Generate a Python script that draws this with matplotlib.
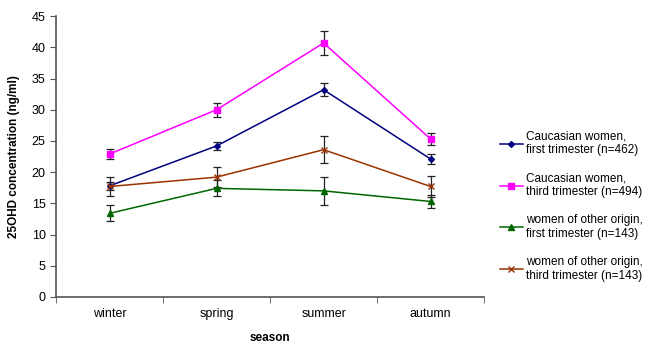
import matplotlib
matplotlib.use("Agg")
import matplotlib.pyplot as plt
import numpy as np

plt.rcParams['font.family'] = ['Liberation Sans', 'DejaVu Sans']

seasons = ["winter", "spring", "summer", "autumn"]

cauc_first = [17.8, 24.2, 33.2, 22.1]
cauc_first_err = [0.6, 0.6, 1.05, 0.75]
cauc_third = [22.9, 30.0, 40.7, 25.3]
cauc_third_err = [0.8, 1.15, 1.9, 0.95]
other_first = [13.4, 17.4, 17.0, 15.3]
other_first_err = [1.3, 1.3, 2.3, 1.0]
other_third = [17.7, 19.2, 23.6, 17.7]
other_third_err = [1.45, 1.65, 2.2, 1.75]

labels = ["Caucasian women,\nfirst trimester (n=462)",
          "Caucasian women,\nthird trimester (n=494)",
          "women of other origin,\nfirst trimester (n=143)",
          "women of other origin,\nthird trimester (n=143)"]

fig = plt.figure(figsize=(6.7, 3.51), dpi=100)
ax = fig.add_axes([0.0836, 0.154, 0.639, 0.8])

x = np.arange(len(seasons))
series = [(cauc_first, cauc_first_err, "#000080", "D", 3),
          (cauc_third, cauc_third_err, "#FF00FF", "s", 4),
          (other_first, other_first_err, "#006600", "^", 4),
          (other_third, other_third_err, "#993300", "x", 4.5)]

for (y, e, c, m, ms), lab in zip(series, labels):
    ax.errorbar(x, y, yerr=e, color=c, marker=m, markersize=ms, lw=1.1,
                ecolor="#222222", elinewidth=0.9, capsize=3, capthick=0.9,
                label=lab)

ax.set_xlim(-0.5, 3.5)
ax.set_ylim(0, 45)
ax.set_yticks(np.arange(0, 46, 5))
ax.set_xticks(x)
ax.set_xticklabels(seasons)
ax.set_xticks(np.arange(-0.5, 4, 1), minor=True)
ax.tick_params(axis="x", which="major", length=0, labelsize=9, pad=8)
ax.tick_params(axis="x", which="minor", length=4, color="#555555")
ax.tick_params(axis="y", labelsize=9, length=4, color="#555555")
for s in ["top", "right"]:
    ax.spines[s].set_visible(False)
for s in ["left", "bottom"]:
    ax.spines[s].set_color("#555555")
    ax.spines[s].set_linewidth(1.2)

ax.set_xlabel("season", fontsize=8.5, fontweight="bold")
ax.set_ylabel("25OHD concentration (ng/ml)", fontsize=8.5, fontweight="bold", labelpad=8)
ax.xaxis.set_label_coords(0.5, -0.125)

handles, labs = ax.get_legend_handles_labels()
handles = [h[0] for h in handles]
fig.legend(handles, labs, loc="center left", bbox_to_anchor=(0.73, 0.413),
           frameon=False, fontsize=8.5, handlelength=1.95, handletextpad=0.3,
           labelspacing=1.35)

fig.savefig("out.png", dpi=100)
